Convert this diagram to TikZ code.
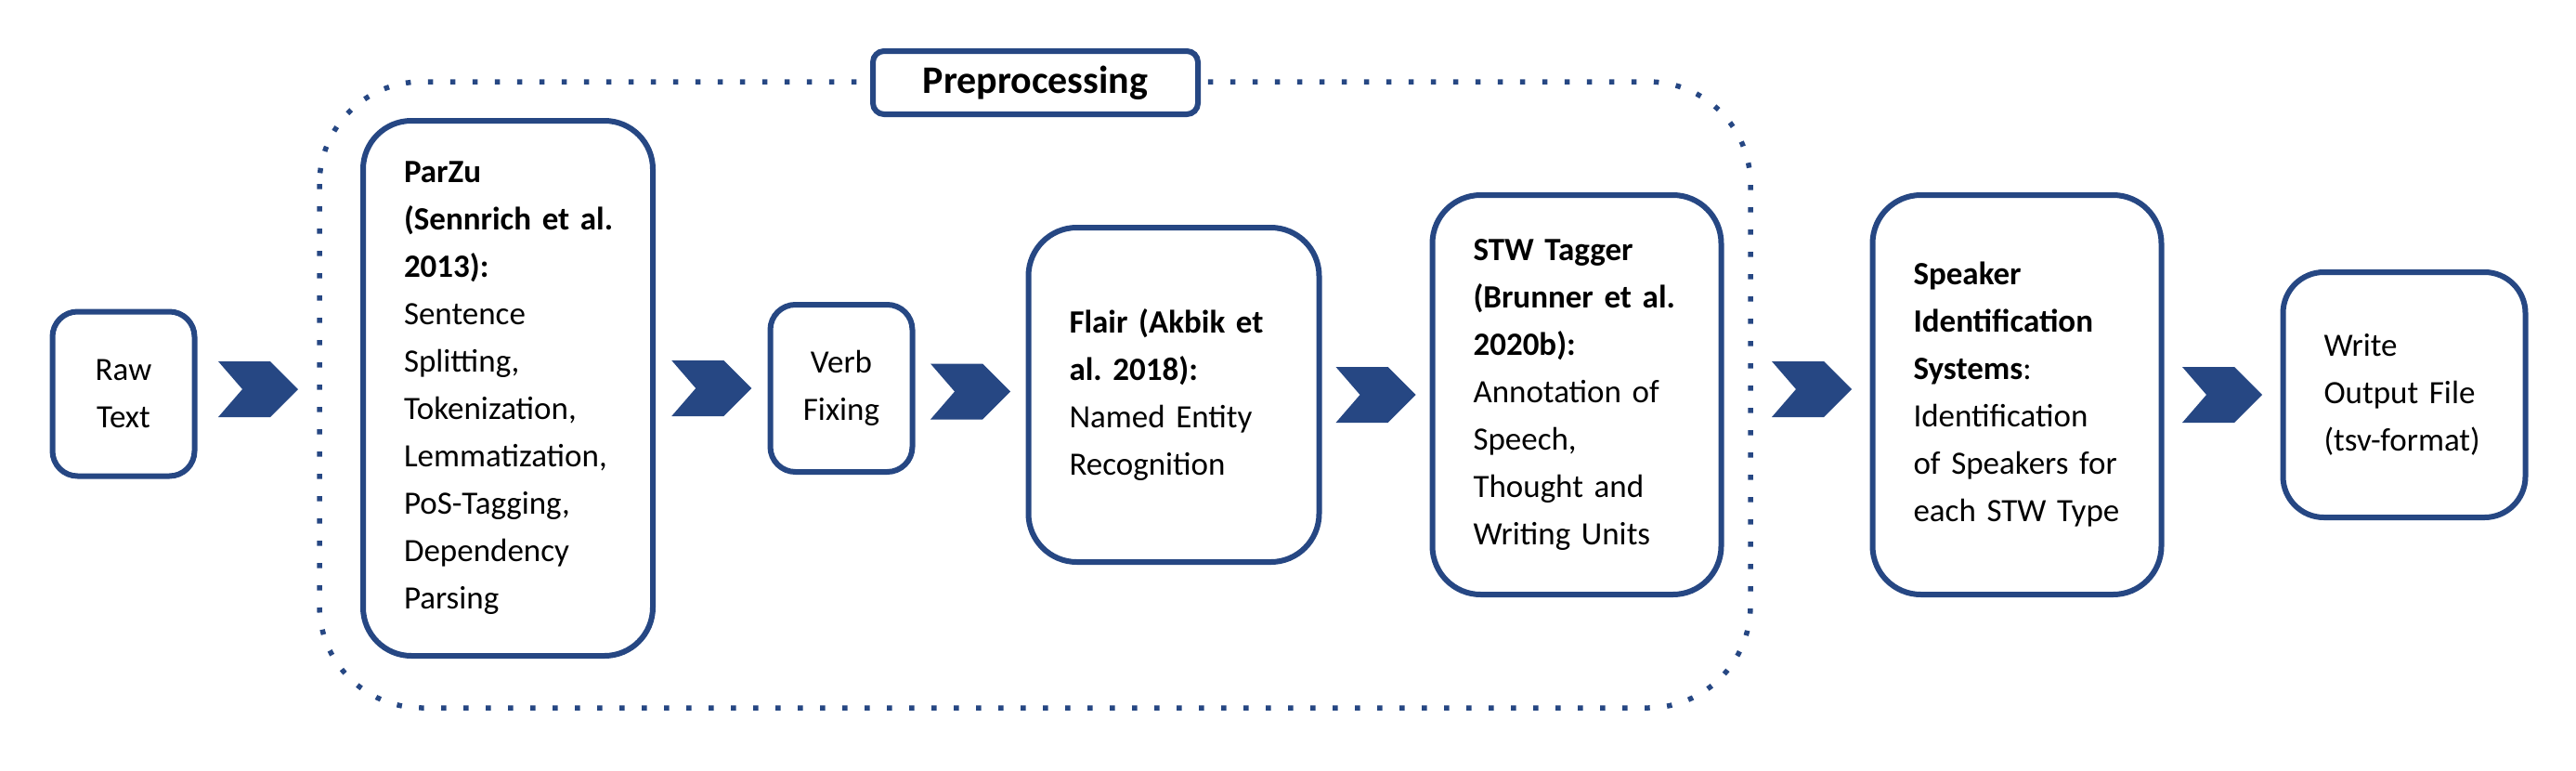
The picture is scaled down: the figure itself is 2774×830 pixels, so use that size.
\documentclass[tikz,border=0pt]{standalone}
\usepackage{fontspec}
\setmainfont{Carlito}
\usetikzlibrary{calc}
\definecolor{navy}{HTML}{264783}
\frenchspacing
\begin{document}
\begin{tikzpicture}[x=1pt,y=-1pt,
  box/.style={draw=navy, line width=6pt, fill=white, inner ysep=0pt,
    font=\fontsize{35}{51}\selectfont, text=black},
  lbox/.style={box, align=left, inner xsep=44pt},
  cbox/.style={box, align=center, inner xsep=8pt},
  chev/.style={fill=navy},
  frame/.style={draw=navy, line width=5.5pt, dash pattern=on 5.5pt off 18.5pt, rounded corners=110pt}
]
\useasboundingbox (0,0) rectangle (2774,830);

% dotted preprocessing frame
\draw[frame] (344,88) rectangle (1885,762);
\node[draw=navy, line width=6pt, fill=white, rounded corners=12pt,
  minimum width=350pt, minimum height=68pt, inner sep=0pt,
  font=\fontsize{42}{50}\selectfont\bfseries] (pre) at (1115,89) {Preprocessing};

% boxes
\node[cbox, text width=137pt, minimum height=177pt, rounded corners=27pt] (raw) at (133,424) {Raw\\Text};
\node[lbox, text width=224pt, minimum height=576pt, rounded corners=52pt] (parzu) at (547,418)
  {\textbf{ParZu}\\\textbf{(Sennrich~et~al.}\\\textbf{2013):}\\Sentence\\Splitting,\\Tokenization,\\Lemmatization,\\PoS-Tagging,\\Dependency\\Parsing};
\node[cbox, text width=137pt, minimum height=180pt, rounded corners=27pt] (verb) at (906,418) {Verb\\Fixing};
\node[lbox, text width=225pt, minimum height=360pt, rounded corners=52pt] (flair) at (1264,425)
  {\textbf{Flair~(Akbik~et}\\\textbf{al.~2018):}\\Named~Entity\\Recognition};
\node[lbox, text width=223pt, minimum height=430pt, rounded corners=52pt] (stw) at (1698,425)
  {\textbf{STW~Tagger}\\\textbf{(Brunner~et~al.}\\\textbf{2020b):}\\Annotation~of\\Speech,\\Thought~and\\Writing~Units};
\node[lbox, text width=223pt, minimum height=430pt, rounded corners=52pt] (spk) at (2172,425)
  {\textbf{Speaker}\\\textbf{Identification}\\\textbf{Systems}:\\Identification\\of~Speakers~for\\each~STW~Type};
\node[lbox, text width=173pt, minimum height=264pt, rounded corners=44pt] (write) at (2589,425)
  {Write\\Output~File\\(tsv-format)};

% chevrons
\coordinate (ch1) at (235,419);
\coordinate (ch2) at ($(parzu.east)!0.5!(verb.west)+(-43,0)$);
\coordinate (ch3) at ($(verb.east)!0.5!(flair.west)+(-43,0)$);
\coordinate (ch4) at ($(flair.east)!0.5!(stw.west)+(-43,0)$);
\coordinate (ch5) at (1908,419);
\coordinate (ch6) at ($(spk.east)!0.5!(write.west)+(-43,0)$);
\foreach \c in {ch1,ch2,ch3,ch4,ch5,ch6}{
  \fill[chev, shift={(\c)}] (0,-30) -- (56,-30) -- (86,0) -- (56,30) -- (0,30) -- (26,0) -- cycle;
}
\end{tikzpicture}
\end{document}
